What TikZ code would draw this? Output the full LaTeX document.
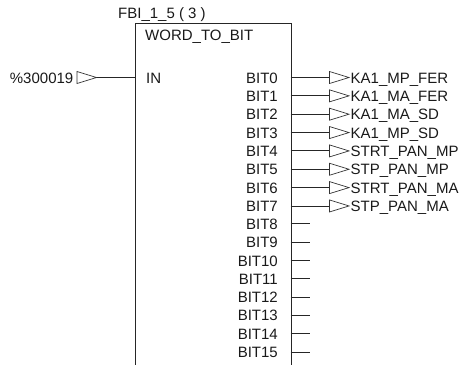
\documentclass[tikz,border=0pt]{standalone}
\usepackage{fontspec}
\setmainfont{Liberation Sans}
\tikzset{
  x=1bp,y=-1bp,
  every node/.style={font=\fontsize{15bp}{17bp}\selectfont,inner sep=0pt,text=black!90},
  wire/.style={draw=black!85,line width=0.9bp},
  blockbox/.style={draw=black!85,line width=0.9bp,rectangle,minimum width=155.5bp,minimum height=381bp,anchor=north west},
  flag/.style={draw=black!80,line width=0.7bp,line join=miter},
  pinname/.style={anchor=base east},
  signame/.style={anchor=base west}
}
\begin{document}
\begin{tikzpicture}
\useasboundingbox (0,0) rectangle (463,364);
\clip (0,0) rectangle (463,364);
\node[blockbox] (fb) at (135,23) {};
\node[anchor=base west] (inst) at (118,18.5) {FBI\_1\_5 ( 3 )};
\node[anchor=base west] (type) at (145,40.5) {WORD\_TO\_BIT};
% input
\node[anchor=base west] (inpin) at (146,83) {IN};
\coordinate (inport) at (135,77.5);
\coordinate (intri) at (77,77.5);
\coordinate (inapex) at (96.5,77.5);
\node[anchor=base east] (insig) at (73.5,83) {\%300019};
\draw[flag] (intri) ++(0,-6) -- (inapex) -- ++(-19.5,6) -- cycle;
\draw[wire] (inapex) -- (inport);
% outputs with signals
\foreach \n/\s in {0/KA1\_MP\_FER,1/KA1\_MA\_FER,2/KA1\_MA\_SD,3/KA1\_MP\_SD,4/STRT\_PAN\_MP,5/STP\_PAN\_MP,6/STRT\_PAN\_MA,7/STP\_PAN\_MA}{
  \pgfmathsetmacro{\yy}{77.5+18.35*\n}
  \node[pinname] (p\n) at (278,\yy+5.5) {BIT\n};
  \coordinate (o\n) at (290.5,\yy);
  \coordinate (t\n) at (329.5,\yy);
  \coordinate (a\n) at (349,\yy);
  \node[signame] (s\n) at (350.5,\yy+5.5) {\s};
  \draw[wire] (o\n) -- (t\n);
  \draw[flag] (t\n) ++(0,-6) -- (a\n) -- ++(-19.5,6) -- cycle;
}
% free outputs
\foreach \n in {8,...,15}{
  \pgfmathsetmacro{\yy}{77.5+18.3*\n}
  \node[pinname] (p\n) at (278,\yy+5.5) {BIT\n};
  \coordinate (o\n) at (290.5,\yy);
  \coordinate (e\n) at (310,\yy);
  \draw[wire] (o\n) -- (e\n);
}
\end{tikzpicture}
\end{document}
